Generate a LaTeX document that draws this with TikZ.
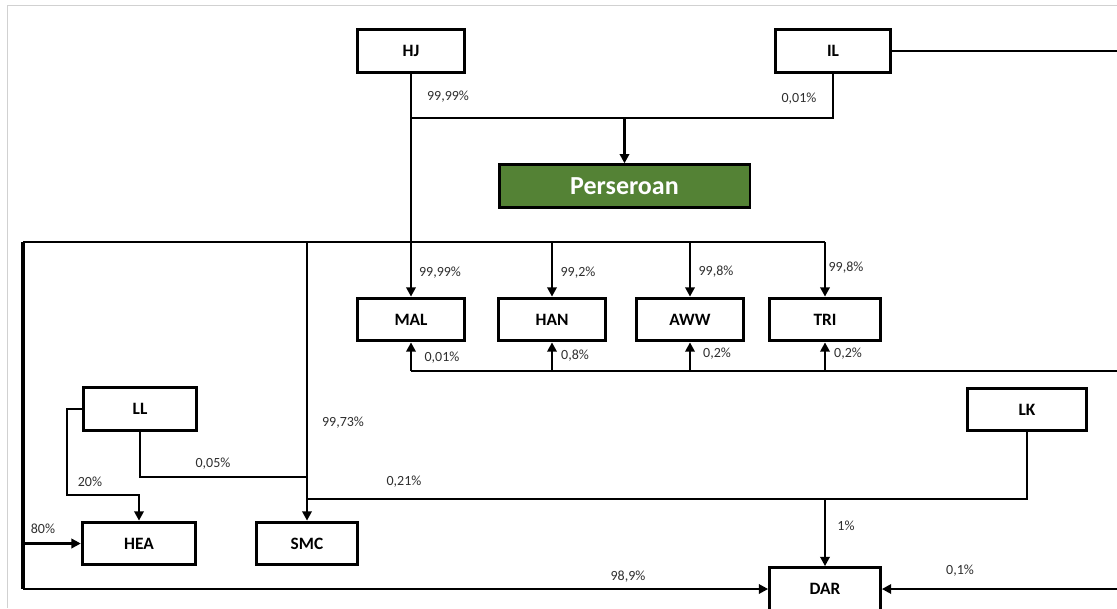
\documentclass[tikz,border=0pt]{standalone}
\usepackage{fontspec}
\setmainfont{Carlito}
\usetikzlibrary{arrows.meta}
\definecolor{pgreen}{HTML}{548235}
\definecolor{labgray}{HTML}{2E2E2E}
\begin{document}
\begin{tikzpicture}[x=0.75pt,y=-0.75pt,
  box/.style={draw=black, line width=2.3pt, fill=white, inner sep=0pt,
    minimum width=80.5pt, minimum height=32pt, font=\fontsize{13}{15}\selectfont\bfseries},
  conn/.style={line width=2.2pt},
  arr/.style={conn, -{Triangle[length=7pt,width=7pt]}},
  pct/.style={font=\fontsize{10.5}{12}\selectfont, text=labgray, inner sep=0pt},
  greyframe/.style={draw=black!18, line width=0.9pt}]
\useasboundingbox (0,0) rectangle (1117,608);
\draw[greyframe] (7.5,608) -- (7.5,5.5) -- (1117,5.5);

% boxes
\node[box] (HJ) at (411,51) {HJ};
\node[box, minimum width=86.5pt] (IL) at (833,51) {IL};
\node[box, fill=pgreen, minimum width=188pt, line width=2pt,
  font=\fontsize{19.5}{21}\selectfont\bfseries, text=white] (PER) at (624.5,186) {Perseroan};
\node[box] (MAL) at (411,319.5) {MAL};
\node[box] (HAN) at (552,319.5) {HAN};
\node[box] (AWW) at (690,319.5) {AWW};
\node[box, minimum width=83pt] (TRI) at (825,319.5) {TRI};
\node[box, minimum width=85pt] (LL) at (140,409) {LL};
\node[box, minimum width=89pt] (LK) at (1027,409.5) {LK};
\node[box, minimum width=85pt] (HEA) at (139,543.5) {HEA};
\node[box, minimum width=76pt] (SMC) at (307,543.5) {SMC};
\node[box, minimum width=83pt] (DAR) at (825,589) {DAR};

% helper coordinates
\coordinate (jy) at (0,118);
\coordinate (busL) at (23,242);
\coordinate (busR) at (825,242);
\coordinate (botR) at (1117,371);
\coordinate (ilR) at (1117,51);
\coordinate (llA) at (67,495);
\coordinate (llB) at (0,477);
\coordinate (lkB) at (0,499);
\coordinate (darR) at (1117,589);

% top
\draw[conn] (HJ.south) -- (HJ.south |- busL);
\draw[conn] (IL.south) -- (IL.south |- jy) -- (HJ.south |- jy);
\draw[arr] (PER.north |- jy) -- (PER.north);
\draw[conn] (IL.east) -- (ilR);

% bus
\draw[conn] (busL) -- (busR);
\draw[arr] (MAL.north |- busL) -- (MAL.north);
\draw[arr] (HAN.north |- busL) -- (HAN.north);
\draw[arr] (AWW.north |- busL) -- (AWW.north);
\draw[arr] (TRI.north |- busL) -- (TRI.north);
\draw[arr] (SMC.north |- busL) -- (SMC.north);
\draw[conn, line width=3pt] (busL) -- (busL |- DAR.west);
\draw[arr] (busL |- DAR.west) -- (DAR.west);
\draw[arr] (busL |- HEA.west) -- (HEA.west);

% bottom line under subsidiaries
\draw[conn] (MAL.south |- botR) -- (botR);
\draw[arr] (MAL.south |- botR) -- (MAL.south);
\draw[arr] (HAN.south |- botR) -- (HAN.south);
\draw[arr] (AWW.south |- botR) -- (AWW.south);
\draw[arr] (TRI.south |- botR) -- (TRI.south);

% LL
\draw[arr] (LL.west) -| (llA) -| (HEA.north);
\draw[conn] (LL.south) |- (SMC.north |- llB);

% LK
\draw[conn] (LK.south) |- (SMC.north |- lkB);
\draw[arr] (DAR.north |- lkB) -- (DAR.north);
\draw[arr] (darR) -- (DAR.east);

% labels
\node[pct] (l1) at (448,97) {99,99\%};
\node[pct] (l2) at (799,99) {0,01\%};
\node[pct] (l3) at (440,273) {99,99\%};
\node[pct] (l4) at (578,273) {99,2\%};
\node[pct] (l5) at (716,272) {99,8\%};
\node[pct] (l6) at (846,268) {99,8\%};
\node[pct] (l7) at (442,358) {0,01\%};
\node[pct] (l8) at (575,356) {0,8\%};
\node[pct] (l9) at (717,354) {0,2\%};
\node[pct] (l10) at (848,354) {0,2\%};
\node[pct] (l11) at (343,423) {99,73\%};
\node[pct] (l12) at (213,464) {0,05\%};
\node[pct] (l13) at (90,482) {20\%};
\node[pct] (l14) at (404,482) {0,21\%};
\node[pct] (l15) at (43,529) {80\%};
\node[pct] (l16) at (846,526) {1\%};
\node[pct] (l17) at (628,577) {98,9\%};
\node[pct] (l18) at (960,571) {0,1\%};
\end{tikzpicture}
\end{document}
